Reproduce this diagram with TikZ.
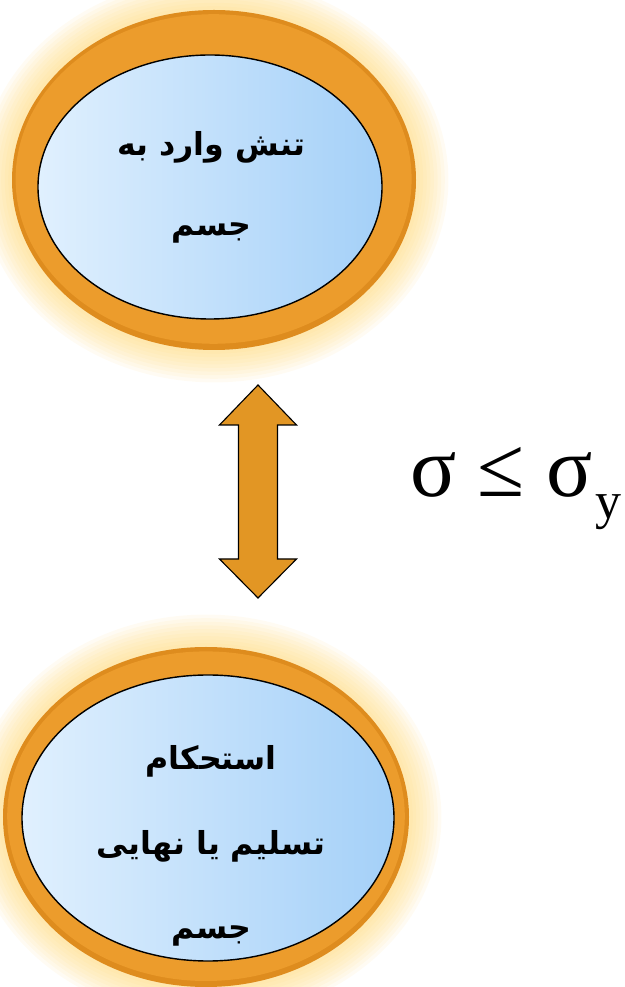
\documentclass[tikz,border=0pt]{standalone}
\usepackage{fontspec}
\setmainfont{Liberation Serif}
\newfontfamily\arabicfont[Script=Arabic]{DejaVu Sans}
\TeXXeTstate=1
\usetikzlibrary{shapes.geometric}
\definecolor{ringorange}{RGB}{236,156,44}
\definecolor{ringdark}{RGB}{222,140,30}
\definecolor{glowyellow}{RGB}{255,210,100}
\definecolor{paleblue}{RGB}{224,240,254}
\definecolor{skyblue}{RGB}{164,208,248}
\definecolor{arroworange}{RGB}{226,150,36}
\tikzset{
  glow/.style={fill=glowyellow,opacity=0.08},
  face/.style={ellipse,draw=black,line width=1pt,inner sep=0pt,left color=paleblue,right color=skyblue},
  farsi/.style={font=\arabicfont\bfseries\fontsize{22.5}{57}\selectfont,align=center},
}
\begin{document}
\begin{tikzpicture}
\useasboundingbox (0,0) rectangle (15.625,24.675);
\clip (0,0) rectangle (15.625,24.675);
\foreach \g in {1,...,9} {
  \fill[glow] (5.35,20.175) ellipse ({5.05+0.09*\g} and {4.25+0.09*\g});
  \fill[glow] (5.15,4.25) ellipse ({5.075+0.09*\g} and {4.25+0.09*\g});
}
\fill[ringdark] (5.35,20.175) ellipse (5.05 and 4.25);
\fill[ringorange] (5.34,20.2) ellipse (4.95 and 4.12);
\fill[ringdark] (5.15,4.25) ellipse (5.075 and 4.25);
\fill[ringorange] (5.15,4.27) ellipse (4.97 and 4.12);
\node[face,minimum width=8.6cm,minimum height=6.6cm] (loadE) at (5.25,20.0) {};
\node[face,minimum width=9.3cm,minimum height=7.15cm] (strE) at (5.2,4.225) {};
\node[farsi] (loadT) at (5.28,20.0) {\beginR تنش وارد به\endR\\\beginR جسم\endR};
\node[farsi,font=\arabicfont\bfseries\fontsize{22.5}{60}\selectfont] (strT) at (5.28,3.525) {\beginR استحکام\endR\\\beginR تسلیم یا نهایی\endR\\\beginR جسم\endR};
\draw[fill=arroworange,line width=0.8pt,line join=miter] (6.45,15.05) -- (7.4125,14.05) -- (6.9375,14.05) -- (6.9375,10.7) -- (7.4125,10.7) -- (6.45,9.725) -- (5.4875,10.7) -- (5.9625,10.7) -- (5.9625,14.05) -- (5.4875,14.05) -- cycle;
\node[anchor=base west,inner sep=0pt,font=\fontsize{61}{62}\selectfont] (cond) at (10.25,12.25) {σ ≤ σ\kern2pt\raisebox{-15pt}{\fontsize{37}{37}\selectfont y}};
\end{tikzpicture}
\end{document}
